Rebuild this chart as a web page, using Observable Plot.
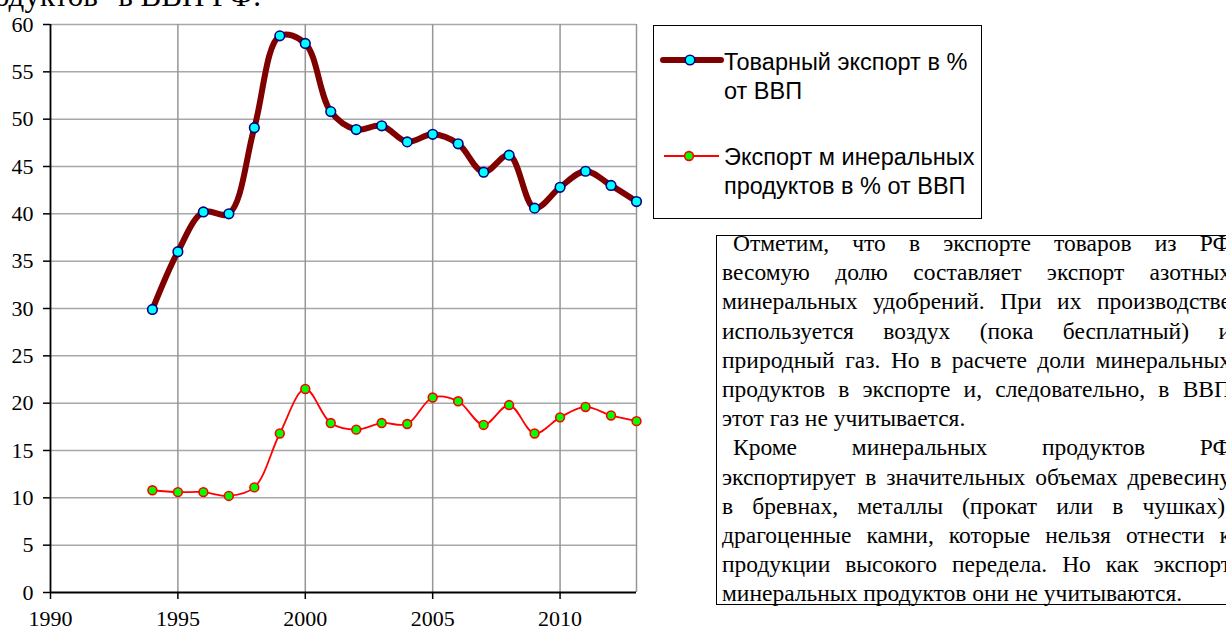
<!DOCTYPE html>
<html>
<head>
<meta charset="utf-8">
<script src="https://cdn.jsdelivr.net/npm/d3@7"></script>
<script src="https://cdn.jsdelivr.net/npm/@observablehq/plot@0.6"></script>
<style>
  html, body { margin: 0; padding: 0; background: white; }
  #wrap { position: relative; width: 1226px; height: 630px; overflow: hidden; background: white; }
  #chart { position: absolute; left: 0; top: 0; }
  #toptext { position: absolute; left: -6px; top: -17px; font-family: "Liberation Serif", serif; font-size: 31px; line-height: 26px; white-space: nowrap; }
  #legend { position: absolute; left: 653px; top: 25px; width: 329px; height: 194px; box-sizing: border-box; border: 1.5px solid black; background: white; overflow: visible; }
  .lg-text { position: absolute; left: 70px; font-family: "Liberation Sans", Arial, sans-serif; font-size: 23.5px; line-height: 29px; white-space: nowrap; color: black; }
  .lg-sw { position: absolute; left: 0; top: 0; }
  #note { position: absolute; left: 716px; top: 235px; width: 560px; height: 370px; box-sizing: border-box; border: 1.5px solid black; border-right: none; padding: 0 0 0 5px; font-family: "Liberation Serif", "Times New Roman", serif; font-size: 23.5px; line-height: 29.2px; color: black; }
  .ln { width: 509px; white-space: nowrap; text-align: justify; text-align-last: justify; overflow: visible; }
  .ln:first-child { margin-top: -7px; }
  .ln.ind { text-indent: 11px; }
  .ln.last { text-align-last: left; }
</style>
</head>
<body>
<div id="wrap">
  <div id="chart"></div>
  <div id="toptext">одуктов" в ВВП РФ.</div>
  <div id="legend"></div>
  <div id="note"></div>
</div>
<script>
const years = [1994, 1995, 1996, 1997, 1998, 1999, 2000, 2001, 2002, 2003, 2004, 2005, 2006, 2007, 2008, 2009, 2010, 2011, 2012, 2013];
const goodsExport = [29.9, 36.0, 40.2, 40.0, 49.1, 58.8, 58.0, 50.8, 48.9, 49.3, 47.6, 48.4, 47.4, 44.4, 46.2, 40.6, 42.8, 44.5, 43.0, 41.3];
const mineralExport = [10.8, 10.6, 10.6, 10.2, 11.1, 16.8, 21.5, 17.9, 17.2, 17.9, 17.8, 20.6, 20.2, 17.7, 19.8, 16.8, 18.5, 19.6, 18.7, 18.1];
const xTicks = [1990, 1995, 2000, 2005, 2010];
const yTicks = [0, 5, 10, 15, 20, 25, 30, 35, 40, 45, 50, 55, 60];
const seriesNames = ["Товарный экспорт в %\nот ВВП", "Экспорт м инеральных\nпродуктов в % от ВВП"];
const noteLines = [
  ["Отметим, что в экспорте товаров из РФ", "ind"],
  ["весомую долю составляет экспорт азотных", ""],
  ["минеральных удобрений. При их производстве", ""],
  ["используется воздух (пока бесплатный) и", ""],
  ["природный газ. Но в расчете доли минеральных", ""],
  ["продуктов в экспорте и, следовательно, в ВВП", ""],
  ["этот газ не учитывается.", "last"],
  ["Кроме минеральных продуктов РФ", "ind"],
  ["экспортирует в значительных объемах древесину", ""],
  ["в бревнах, металлы (прокат или в чушках),", ""],
  ["драгоценные камни, которые нельзя отнести к", ""],
  ["продукции высокого передела. Но  как экспорт", ""],
  ["минеральных продуктов они не учитываются.", "last"]
];

const goods = years.map((y, i) => ({year: y, value: goodsExport[i]}));
const mineral = years.map((y, i) => ({year: y, value: mineralExport[i]}));

const chart = Plot.plot({
  width: 660,
  height: 630,
  marginLeft: 50,
  marginRight: 24,
  marginTop: 24,
  marginBottom: 38,
  style: {fontFamily: "Liberation Serif, serif", fontSize: "22px", color: "black", background: "white"},
  x: {domain: [1990, 2013]},
  y: {domain: [0, 60]},
  marks: [
    Plot.ruleY(yTicks.filter(d => d > 0), {stroke: "#a8a8a8", strokeWidth: 1.5}),
    Plot.ruleX([1995, 2000, 2005, 2010, 2013], {stroke: "#969696", strokeWidth: 1.5}),
    Plot.axisY({ticks: yTicks, tickSize: 7, tickPadding: 10, label: null, stroke: "black", strokeWidth: 1.5, fill: "black", fontSize: 22}),
    Plot.axisX({ticks: xTicks, tickSize: 7, tickPadding: 11, label: null, tickFormat: d => String(d), stroke: "black", strokeWidth: 1.5, fill: "black", fontSize: 22}),
    Plot.ruleX([1990], {stroke: "black", strokeWidth: 1.8}),
    Plot.ruleY([0], {stroke: "black", strokeWidth: 1.8}),
    Plot.line(mineral, {x: "year", y: "value", stroke: "#ff0000", strokeWidth: 1.8, curve: "catmull-rom"}),
    Plot.dot(mineral, {x: "year", y: "value", r: 4.4, fill: "#00ff00", stroke: "#ff0000", strokeWidth: 1.6}),
    Plot.line(goods, {x: "year", y: "value", stroke: "#800000", strokeWidth: 6, curve: "catmull-rom"}),
    Plot.dot(goods, {x: "year", y: "value", r: 4.8, fill: "#00ffff", stroke: "#000080", strokeWidth: 1.6})
  ]
});
document.getElementById("chart").appendChild(chart);

// Legend
const legend = document.getElementById("legend");
legend.innerHTML = `
<svg class="lg-sw" width="329" height="194">
  <line x1="9" y1="34" x2="67" y2="34" stroke="#800000" stroke-width="6" stroke-linecap="round"/>
  <circle cx="36" cy="34" r="4.8" fill="#00ffff" stroke="#000080" stroke-width="1.6"/>
  <line x1="10" y1="130" x2="65" y2="130" stroke="#ff0000" stroke-width="1.8"/>
  <circle cx="35" cy="130" r="4.4" fill="#00ff00" stroke="#ff0000" stroke-width="1.6"/>
</svg>`;
const tops = [22, 117];
seriesNames.forEach((name, i) => {
  const d = document.createElement("div");
  d.className = "lg-text";
  d.style.top = tops[i] + "px";
  d.innerHTML = name.split("\n").join("<br>");
  legend.appendChild(d);
});

// Note box
const note = document.getElementById("note");
noteLines.forEach(([t, cls]) => {
  const d = document.createElement("div");
  d.className = "ln" + (cls ? " " + cls : "");
  d.textContent = t;
  note.appendChild(d);
});
</script>
</body>
</html>
